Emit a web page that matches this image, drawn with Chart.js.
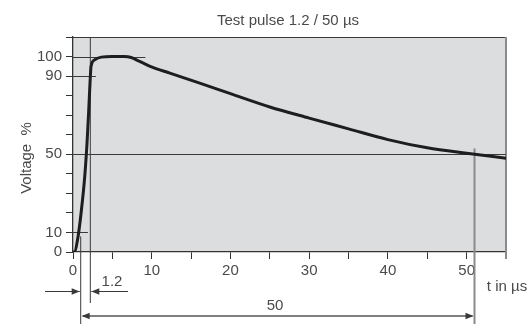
<!DOCTYPE html>
<html>
<head>
<meta charset="utf-8">
<script src="https://cdn.jsdelivr.net/npm/chart.js@4/dist/chart.umd.min.js"></script>
<style>
  html, body { margin: 0; padding: 0; background: #ffffff; }
  #c { display: block; }
</style>
</head>
<body>
<canvas id="c" width="529" height="324"></canvas>
<script>
// ---- data ----
const timeUs = [0, 0.15, 0.64, 1.07, 1.49, 1.78, 2.0, 2.16, 2.29, 2.76, 3.6, 5, 6.5, 7.4, 8.1, 9.0, 9.8, 12.3, 16.1, 20, 25, 30, 35, 40, 45, 50, 55];
const voltagePct = [0, 0, 7.8, 21.5, 38.6, 55.6, 72.7, 86.4, 94.9, 98.3, 99.7, 100, 100, 99.5, 98.2, 96.5, 95.0, 91.5, 86.4, 81, 74.2, 68.5, 63, 57.5, 53.3, 50.5, 48];
const yTickLabels = [0, 10, 50, 90, 100];
const xTickLabels = [0, 10, 20, 30, 40, 50];
const titleText = 'Test pulse 1.2 / 50 µs';
const yTitle = 'Voltage  %';
const xTitle = 't in µs';
const frontLabel = '1.2';
const tailLabel = '50';
// reference marks (µs / %)
const virtualOrigin = 0.98;
const frontEnd = 2.2;
const halfValueTime = 51;
const guideLevels = [{ v: 100, to: 9.2 }, { v: 90, to: 2.9 }, { v: 10, to: 1.9 }, { v: 50, to: 55 }];

const FONT = '"Liberation Sans", Arial, sans-serif';
const TEXT = '#4a4a4a';
const DARK = '#333333';

function arrowHead(ctx, x, y, dir) {
  ctx.beginPath();
  ctx.moveTo(x, y);
  ctx.lineTo(x - dir * 8, y - 3.2);
  ctx.lineTo(x - dir * 8, y + 3.2);
  ctx.closePath();
  ctx.fill();
}

const decor = {
  id: 'decor',
  beforeDraw(chart) {
    const { ctx, chartArea: a } = chart;
    ctx.save();
    ctx.fillStyle = '#dcdddf';
    ctx.fillRect(a.left, a.top, a.right - a.left, a.bottom - a.top);
    ctx.restore();
  },
  beforeDatasetsDraw(chart) {
    const { ctx, chartArea: a, scales: { x, y } } = chart;
    ctx.save();
    ctx.strokeStyle = '#3a3a3a';
    ctx.lineWidth = 1.2;
    ctx.beginPath();
    ctx.moveTo(a.left, a.top + 0.5);
    ctx.lineTo(a.right, a.top + 0.5);
    ctx.stroke();
    ctx.strokeStyle = '#8c8c8c';
    ctx.lineWidth = 2;
    ctx.beginPath();
    ctx.moveTo(a.right, a.top);
    ctx.lineTo(a.right, a.bottom + 7);
    ctx.stroke();
    ctx.strokeStyle = '#3a3a3a';
    ctx.lineWidth = 1;
    guideLevels.forEach(g => {
      const py = Math.round(y.getPixelForValue(g.v)) + 0.5;
      ctx.beginPath();
      ctx.moveTo(a.left, py);
      ctx.lineTo(x.getPixelForValue(g.to), py);
      ctx.stroke();
    });
    const fx = x.getPixelForValue(frontEnd);
    ctx.beginPath();
    ctx.moveTo(fx, a.top);
    ctx.lineTo(fx, 303);
    ctx.stroke();
    const ox = x.getPixelForValue(virtualOrigin);
    ctx.beginPath();
    ctx.moveTo(ox, y.getPixelForValue(8));
    ctx.lineTo(ox, 324);
    ctx.stroke();
    const hx = x.getPixelForValue(halfValueTime);
    ctx.strokeStyle = '#8a8a8a';
    ctx.lineWidth = 2;
    ctx.beginPath();
    ctx.moveTo(hx, y.getPixelForValue(53));
    ctx.lineTo(hx, 324);
    ctx.stroke();
    ctx.restore();
  },
  afterDraw(chart) {
    const { ctx, scales: { x } } = chart;
    const ox = x.getPixelForValue(virtualOrigin);
    const fx = x.getPixelForValue(frontEnd);
    const hx = x.getPixelForValue(halfValueTime);
    ctx.save();
    ctx.fillStyle = TEXT;
    ctx.font = '15px ' + FONT;
    ctx.textAlign = 'center';
    ctx.textBaseline = 'middle';
    ctx.fillText(titleText, 288, 21);
    ctx.fillText(frontLabel, 112, 282);
    ctx.fillText(tailLabel, 275, 306);
    ctx.fillText(xTitle, 507, 287);
    ctx.save();
    ctx.translate(27, 158);
    ctx.rotate(-Math.PI / 2);
    ctx.fillText(yTitle, 0, 0);
    ctx.restore();
    ctx.strokeStyle = '#3a3a3a';
    ctx.fillStyle = '#3a3a3a';
    ctx.lineWidth = 1;
    const ay = 291.5;
    ctx.beginPath(); ctx.moveTo(45, ay); ctx.lineTo(ox - 1, ay); ctx.stroke();
    arrowHead(ctx, ox - 1, ay, 1);
    ctx.beginPath(); ctx.moveTo(128, ay); ctx.lineTo(fx + 1, ay); ctx.stroke();
    arrowHead(ctx, fx + 1, ay, -1);
    const by = 316;
    ctx.strokeStyle = '#555555';
    ctx.lineWidth = 1.4;
    ctx.beginPath(); ctx.moveTo(ox + 2, by); ctx.lineTo(hx - 2, by); ctx.stroke();
    arrowHead(ctx, ox + 1, by, -1);
    arrowHead(ctx, hx - 1, by, 1);
    ctx.restore();
  }
};

new Chart(document.getElementById('c'), {
  type: 'line',
  data: {
    datasets: [{
      data: timeUs.map((t, i) => ({ x: t, y: voltagePct[i] })),
      borderColor: '#1e1e1e',
      borderWidth: 3,
      pointRadius: 0,
      fill: false,
      cubicInterpolationMode: 'monotone',
      borderCapStyle: 'round',
      borderJoinStyle: 'round'
    }]
  },
  options: {
    responsive: false,
    devicePixelRatio: 1,
    animation: false,
    layout: { padding: { top: 37, right: 23, left: 0, bottom: 0 } },
    plugins: { legend: { display: false }, tooltip: { enabled: false }, title: { display: false } },
    scales: {
      x: {
        type: 'linear',
        min: 0, max: 55,
        afterFit(s) { s.height = 72; },
        grid: { drawOnChartArea: false, drawTicks: true, tickLength: 7, color: DARK, tickWidth: 1 },
        border: { display: true, color: DARK, width: 1.3 },
        ticks: {
          stepSize: 5,
          autoSkip: false,
          maxRotation: 0,
          padding: 3,
          color: TEXT,
          font: { family: FONT, size: 15 },
          callback: v => xTickLabels.includes(v) ? String(v) : ''
        }
      },
      y: {
        type: 'linear',
        min: 0, max: 110,
        afterFit(s) { s.width = 73; },
        grid: { drawOnChartArea: false, drawTicks: true, tickLength: 7, color: DARK, tickWidth: 1 },
        border: { display: true, color: DARK, width: 1.3 },
        ticks: {
          stepSize: 10,
          autoSkip: false,
          padding: 4,
          color: TEXT,
          font: { family: FONT, size: 15 },
          callback: v => yTickLabels.includes(v) ? String(v) : ''
        }
      }
    }
  },
  plugins: [decor]
});
</script>
</body>
</html>
